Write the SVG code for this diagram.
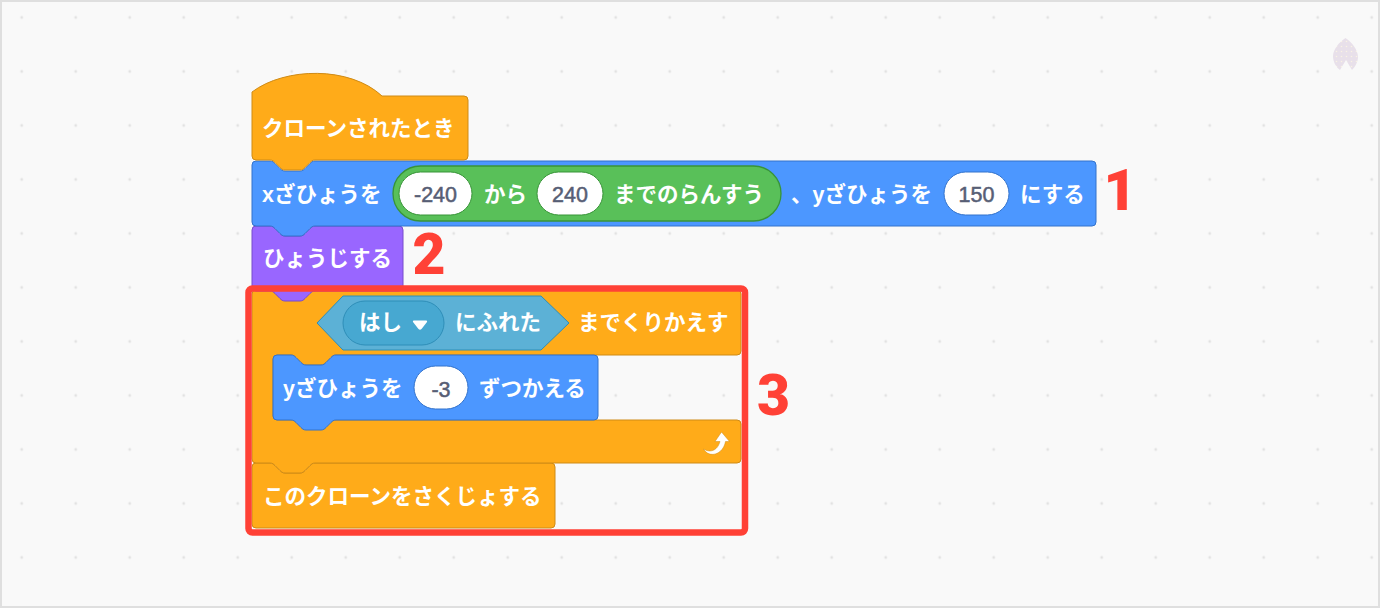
<svg xmlns="http://www.w3.org/2000/svg" width="1380" height="608" viewBox="0 0 1380 608">
<style>
.o{fill:#ffab19;stroke:#cf8b17}
.b{fill:#4c97ff;stroke:#3373cc}
.p{fill:#9966ff;stroke:#774dcb}
.g{fill:#59c059;stroke:#389438;stroke-width:1.3}
.w{fill:#fff;stroke:#3373cc;stroke-width:1}
.t{font-family:"Liberation Sans","Noto Sans CJK JP",sans-serif;font-size:21.5px;font-weight:700;fill:#fff}
.n{font-family:"Liberation Sans",sans-serif;font-size:21.5px;fill:#575e75;stroke:#575e75;stroke-width:.5;text-anchor:middle}
.r{font-family:Roboto,"Liberation Sans",sans-serif;font-size:57px;font-weight:900;fill:#ff4136;text-anchor:middle}
</style>
<defs>
<pattern id="dots" width="54" height="54" patternUnits="userSpaceOnUse" x="-5.3" y="-9.5"><circle cx="27" cy="27" r="1.4" fill="#e2e2e2"/></pattern>
<pattern id="spk" width="5" height="5" patternUnits="userSpaceOnUse"><rect width="5" height="5" fill="#e8e0ea"/><circle cx="1.5" cy="1.5" r=".8" fill="#f9f3e4"/></pattern>
</defs>
<rect x="1" y="1" width="1378" height="606" fill="#f9f9f9" stroke="#dfdfdf" stroke-width="2"/>
<rect x="2" y="2" width="1376" height="604" fill="url(#dots)"/>
<path id="mark" d="M1345.500 38C1352 42 1358 50 1358 57C1358 62 1355 67 1352 70C1350 67 1348 63 1346 60C1344 63 1342 67 1340 70C1336 67 1333 62 1333 56C1333 50 1339 42 1345.500 38Z" fill="url(#spk)"/>

<g id="delete-clone">
<path class="o" d="M252 467a4 4 0 0 1 4-4H270c2.500 0 3.750 1.250 5 2.500l5 5c1.250 1.250 2.500 2.500 5 2.500h15c2.500 0 3.750-1.250 5-2.500l5-5c1.250-1.250 2.500-2.500 5-2.500H551a4 4 0 0 1 4 4V524a4 4 0 0 1-4 4H256a4 4 0 0 1-4-4Z"/>
<text class="t" x="263" y="504">このクローンをさくじょする</text>
</g>

<g id="repeat-until">
<path class="o" d="M252 294a4 4 0 0 1 4-4H270c2.500 0 3.750 1.250 5 2.500l5 5c1.250 1.250 2.500 2.500 5 2.500h15c2.500 0 3.750-1.250 5-2.500l5-5c1.250-1.250 2.500-2.500 5-2.500H737a4 4 0 0 1 4 4V351a4 4 0 0 1-4 4H336c-2.500 0-3.750 1.250-5 2.500l-5 5c-1.250 1.250-2.500 2.500-5 2.500h-15c-2.500 0-3.750-1.250-5-2.500l-5-5c-1.250-1.250-2.500-2.500-5-2.500H277a4 4 0 0 0-4 4V416a4 4 0 0 0 4 4H737a4 4 0 0 1 4 4V459a4 4 0 0 1-4 4H315c-2.500 0-3.750 1.250-5 2.500l-5 5c-1.250 1.250-2.500 2.500-5 2.500h-15c-2.500 0-3.750-1.250-5-2.500l-5-5c-1.250-1.250-2.500-2.500-5-2.500H256a4 4 0 0 1-4-4Z"/>
<path d="M317 323L343 296H541L569 323L541 350H343Z" fill="#5cb1d6" stroke="#2e8eb8"/>
<rect x="343" y="301" width="101" height="44" rx="22" fill="#47a8d1" stroke="#2e8eb8"/>
<text class="t" x="359" y="330">はし</text>
<path d="M413.500 320.500H426.500Q427.500 321 427 322L421.500 329Q420 330.500 418.500 329L413 322Q412.500 321 413.500 320.500Z" fill="#fff"/>
<text class="t" x="455" y="330">にふれた</text>
<text class="t" x="578" y="330">までくりかえす</text>
<path d="M703.500 449C709 452.500 717 452 720 441.500L715 441.500L721.500 432L729.500 441.500L725.500 441.500C723 455 709 458.500 703.500 449Z" fill="#fff" stroke="#cf8b17" stroke-width=".5"/>
</g>

<g id="change-y">
<path class="b" d="M273 359a4 4 0 0 1 4-4H291c2.500 0 3.750 1.250 5 2.500l5 5c1.250 1.250 2.500 2.500 5 2.500h15c2.500 0 3.750-1.250 5-2.500l5-5c1.250-1.250 2.500-2.500 5-2.500H594a4 4 0 0 1 4 4V416a4 4 0 0 1-4 4H336c-2.500 0-3.750 1.250-5 2.500l-5 5c-1.250 1.250-2.500 2.500-5 2.500h-15c-2.500 0-3.750-1.250-5-2.500l-5-5c-1.250-1.250-2.500-2.500-5-2.500H277a4 4 0 0 1-4-4Z"/>
<text class="t" x="283" y="396">yざひょうを</text>
<rect class="w" x="414" y="366" width="54" height="43" rx="21.500"/>
<text class="n" x="441" y="397">-3</text>
<text class="t" x="479" y="396">ずつかえる</text>
</g>

<g id="show">
<path class="p" d="M252 230a4 4 0 0 1 4-4H270c2.500 0 3.750 1.250 5 2.500l5 5c1.250 1.250 2.500 2.500 5 2.500h15c2.500 0 3.750-1.250 5-2.500l5-5c1.250-1.250 2.500-2.500 5-2.500H399a4 4 0 0 1 4 4V287a4 4 0 0 1-4 4H315c-2.500 0-3.750 1.250-5 2.500l-5 5c-1.250 1.250-2.500 2.500-5 2.500h-15c-2.500 0-3.750-1.250-5-2.500l-5-5c-1.250-1.250-2.500-2.500-5-2.500H256a4 4 0 0 1-4-4Z"/>
<text class="t" x="263" y="266">ひょうじする</text>
</g>

<g id="goto-xy">
<path class="b" d="M252 165a4 4 0 0 1 4-4H270c2.500 0 3.750 1.250 5 2.500l5 5c1.250 1.250 2.500 2.500 5 2.500h15c2.500 0 3.750-1.250 5-2.500l5-5c1.250-1.250 2.500-2.500 5-2.500H1092a4 4 0 0 1 4 4V222a4 4 0 0 1-4 4H315c-2.500 0-3.750 1.250-5 2.500l-5 5c-1.250 1.250-2.500 2.500-5 2.500h-15c-2.500 0-3.750-1.250-5-2.500l-5-5c-1.250-1.250-2.500-2.500-5-2.500H256a4 4 0 0 1-4-4Z"/>
<text class="t" x="262" y="202">xざひょうを</text>
<rect class="g" x="393" y="166" width="388" height="55" rx="27.500"/>
<rect class="w" style="stroke:#389438" x="399" y="172" width="73" height="43" rx="21.500"/>
<text class="n" x="435.500" y="202">-240</text>
<text class="t" x="484" y="202">から</text>
<rect class="w" style="stroke:#389438" x="537" y="172" width="66" height="43" rx="21.500"/>
<text class="n" x="570" y="202">240</text>
<text class="t" x="614" y="202">までのらんすう</text>
<text class="t" x="791" y="202">、yざひょうを</text>
<rect class="w" x="944" y="172" width="65" height="43" rx="21.500"/>
<text class="n" x="976.500" y="202">150</text>
<text class="t" x="1020" y="202">にする</text>
</g>

<g id="when-cloned">
<path class="o" d="M252 92C285 67 350 66 382 96H464a4 4 0 0 1 4 4V156a4 4 0 0 1-4 4H315c-2.500 0-3.750 1.250-5 2.500l-5 5c-1.250 1.250-2.500 2.500-5 2.500h-15c-2.500 0-3.750-1.250-5-2.500l-5-5c-1.250-1.250-2.500-2.500-5-2.500H256a4 4 0 0 1-4-4Z"/>
<text class="t" x="262" y="136">クローンされたとき</text>
</g>

<g id="annotations">
<rect x="248.500" y="288.500" width="496.500" height="244" rx="4" fill="none" stroke="#ff4136" stroke-width="6.500"/>
<text class="r" x="1120" y="209.500">1</text>
<text class="r" x="429" y="274">2</text>
<text class="r" x="773.500" y="415">3</text>
</g>
</svg>
